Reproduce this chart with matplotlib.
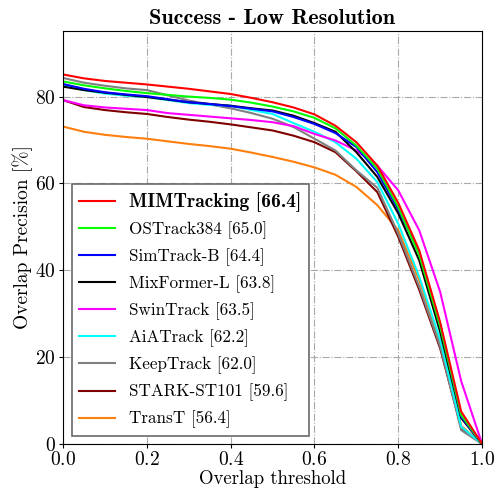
import numpy as np
import matplotlib
matplotlib.use('Agg')
import matplotlib.pyplot as plt

plt.rcParams['font.family'] = 'cmr10'
plt.rcParams['mathtext.fontset'] = 'cm'
plt.rcParams['axes.formatter.use_mathtext'] = True

# Overlap thresholds
thresholds = np.linspace(0, 1, 21)

# Tracker names, AUC scores and colours
names = ['MIMTracking', 'OSTrack384', 'SimTrack-B', 'MixFormer-L', 'SwinTrack',
         'AiATrack', 'KeepTrack', 'STARK-ST101', 'TransT']
scores = [66.4, 65.0, 64.4, 63.8, 63.5, 62.2, 62.0, 59.6, 56.4]
colors = ['red', 'lime', 'blue', 'black', 'magenta', 'cyan', 'gray', 'maroon', '#ff7f0e']

# Success curves (overlap precision %)
mimtracking = [85.1, 84.2, 83.6, 83.2, 82.8, 82.3, 81.8, 81.2, 80.6, 79.7, 78.7,
               77.5, 75.9, 73.3, 69.5, 64.1, 55.5, 44.6, 28.0, 7.5, 0.0]
ostrack384 = [83.5, 82.6, 81.9, 81.3, 80.8, 80.4, 80.0, 79.7, 79.3, 78.6, 77.7,
              76.6, 75.1, 72.7, 68.7, 63.4, 54.5, 43.5, 27.0, 6.7, 0.0]
simtrack_b = [82.9, 81.8, 81.0, 80.5, 80.1, 79.4, 78.7, 78.3, 77.8, 77.2, 76.6,
              75.3, 73.7, 71.6, 68.4, 62.6, 54.0, 44.0, 27.5, 6.3, 0.0]
mixformer_l = [82.3, 81.5, 80.9, 80.4, 79.9, 79.3, 78.7, 78.3, 77.9, 77.3, 76.8,
               75.6, 73.9, 71.9, 67.2, 61.5, 53.1, 42.3, 25.8, 6.0, 0.0]
swintrack = [79.2, 78.0, 77.5, 77.2, 76.9, 76.2, 75.8, 75.4, 75.0, 74.6, 74.1,
             73.2, 71.4, 69.9, 67.6, 64.1, 58.4, 49.2, 35.0, 14.5, 0.0]
aiatrack = [82.6, 81.5, 80.7, 80.2, 79.9, 79.2, 78.5, 78.1, 77.9, 76.9, 76.0,
            73.9, 71.9, 69.5, 65.7, 60.3, 50.7, 38.5, 24.0, 4.0, 0.0]
keeptrack = [84.3, 83.2, 82.5, 81.9, 81.5, 80.3, 79.1, 78.2, 77.3, 76.2, 74.9,
             73.0, 70.3, 67.6, 63.0, 59.0, 48.4, 36.2, 22.5, 3.2, 0.0]
stark_st101 = [79.2, 77.6, 76.9, 76.4, 76.0, 75.3, 74.7, 74.2, 73.6, 72.9, 72.2,
               71.0, 69.5, 67.2, 62.8, 58.0, 47.7, 35.5, 22.0, 3.8, 0.0]
transt = [73.1, 71.9, 71.2, 70.7, 70.3, 69.7, 69.1, 68.6, 68.0, 67.1, 66.1,
          65.0, 63.7, 62.0, 59.2, 55.0, 49.2, 37.7, 23.5, 4.2, 0.0]

curves = [mimtracking, ostrack384, simtrack_b, mixformer_l, swintrack,
          aiatrack, keeptrack, stark_st101, transt]

fig = plt.figure(figsize=(4.96, 4.91), dpi=100)
ax = fig.add_axes([0.127, 0.0957, 0.845, 0.842])

# draw in reverse so the best tracker sits on top
for name, sc, col, ys in reversed(list(zip(names, scores, colors, curves))):
    ax.plot(thresholds, ys, color=col, lw=1.5, label=f'{name} [{sc:.1f}]')

ax.set_xlim(0, 1)
ax.set_ylim(0, 95.2)
ax.set_xticks([0, 0.2, 0.4, 0.6, 0.8, 1.0])
ax.set_yticks([0, 20, 40, 60, 80])
ax.tick_params(labelsize=14, length=3, pad=2)
ax.grid(True, color='darkgray', linestyle='-.', lw=0.8)

ax.set_xlabel('Overlap threshold', fontsize=13.5, labelpad=1)
ax.set_ylabel('Overlap Precision [%]', fontsize=14, labelpad=2)
ax.set_title('Success - Low Resolution', fontsize=16, fontfamily='cmb10', pad=5)

handles, labels = ax.get_legend_handles_labels()
leg = ax.legend(handles[::-1], labels[::-1], loc='lower left', bbox_to_anchor=(0.021, 0.019),
                borderaxespad=0, fontsize=12.3, fancybox=False, edgecolor='dimgray',
                framealpha=1, handlelength=2.1, handletextpad=0.8,
                labelspacing=0.55, borderpad=0.45)
leg.get_frame().set_linewidth(1.2)
leg.get_texts()[0].set_fontfamily('cmb10')
leg.get_texts()[0].set_fontsize(14)

plt.savefig('out.png', dpi=100)
